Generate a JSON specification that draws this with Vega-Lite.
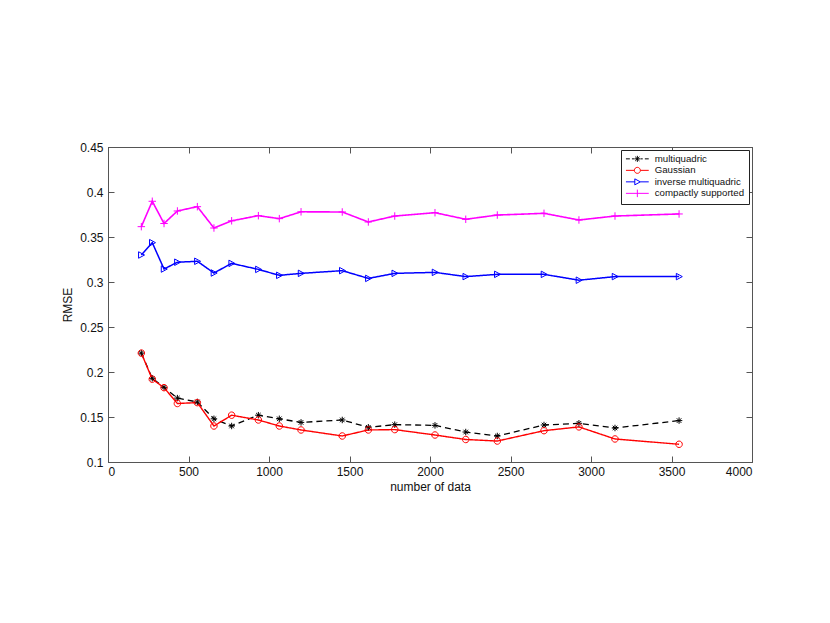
{
  "$schema": "https://vega.github.io/schema/vega-lite/v6.json",
  "width": 644,
  "height": 315,
  "autosize": {"type": "none"},
  "padding": {"left": 108, "top": 147, "right": 78, "bottom": 161},
  "background": "white",
  "config": {
    "font": "Liberation Sans",
    "view": {"stroke": "#555555", "strokeWidth": 1},
    "axis": {
      "grid": false,
      "domainColor": "#555555",
      "tickColor": "#555555",
      "labelColor": "#111111",
      "labelFont": "Liberation Sans",
      "labelFontSize": 12,
      "titleFont": "Liberation Sans",
      "titleFontSize": 12,
      "titleFontWeight": "normal",
      "titleColor": "#111111",
      "tickSize": -6
    },
    "legend": {
      "orient": "top-right", "offset": 3, "title": null, "padding": 4,
      "strokeColor": "#222222", "fillColor": "white",
      "symbolSize": 36, "symbolOffset": 7.5, "labelOffset": 12.5,
      "labelFont": "Liberation Sans", "labelFontSize": 9.7, "labelColor": "#111111",
      "rowPadding": 0.5, "symbolStrokeWidth": 1, "symbolFillColor": "transparent", "symbolOpacity": 1
    }
  },
  "data": {
    "values": [
      {"n": 207, "method": "multiquadric", "rmse": 0.221},
      {"n": 275, "method": "multiquadric", "rmse": 0.193},
      {"n": 348, "method": "multiquadric", "rmse": 0.183},
      {"n": 431, "method": "multiquadric", "rmse": 0.171},
      {"n": 555, "method": "multiquadric", "rmse": 0.1667},
      {"n": 658, "method": "multiquadric", "rmse": 0.148},
      {"n": 768, "method": "multiquadric", "rmse": 0.14},
      {"n": 934, "method": "multiquadric", "rmse": 0.152},
      {"n": 1064, "method": "multiquadric", "rmse": 0.148},
      {"n": 1199, "method": "multiquadric", "rmse": 0.144},
      {"n": 1455, "method": "multiquadric", "rmse": 0.1467},
      {"n": 1617, "method": "multiquadric", "rmse": 0.1386},
      {"n": 1781, "method": "multiquadric", "rmse": 0.1415},
      {"n": 2031, "method": "multiquadric", "rmse": 0.1407},
      {"n": 2222, "method": "multiquadric", "rmse": 0.1333},
      {"n": 2418, "method": "multiquadric", "rmse": 0.1289},
      {"n": 2708, "method": "multiquadric", "rmse": 0.1411},
      {"n": 2925, "method": "multiquadric", "rmse": 0.143},
      {"n": 3149, "method": "multiquadric", "rmse": 0.1378},
      {"n": 3547, "method": "multiquadric", "rmse": 0.146},
      {"n": 207, "method": "Gaussian", "rmse": 0.221},
      {"n": 275, "method": "Gaussian", "rmse": 0.192},
      {"n": 348, "method": "Gaussian", "rmse": 0.1826},
      {"n": 431, "method": "Gaussian", "rmse": 0.165},
      {"n": 555, "method": "Gaussian", "rmse": 0.166},
      {"n": 658, "method": "Gaussian", "rmse": 0.14},
      {"n": 768, "method": "Gaussian", "rmse": 0.152},
      {"n": 934, "method": "Gaussian", "rmse": 0.1467},
      {"n": 1064, "method": "Gaussian", "rmse": 0.14},
      {"n": 1199, "method": "Gaussian", "rmse": 0.1356},
      {"n": 1455, "method": "Gaussian", "rmse": 0.1289},
      {"n": 1617, "method": "Gaussian", "rmse": 0.1356},
      {"n": 1781, "method": "Gaussian", "rmse": 0.136},
      {"n": 2031, "method": "Gaussian", "rmse": 0.13},
      {"n": 2222, "method": "Gaussian", "rmse": 0.125},
      {"n": 2418, "method": "Gaussian", "rmse": 0.1233},
      {"n": 2708, "method": "Gaussian", "rmse": 0.1348},
      {"n": 2925, "method": "Gaussian", "rmse": 0.139},
      {"n": 3149, "method": "Gaussian", "rmse": 0.1256},
      {"n": 3547, "method": "Gaussian", "rmse": 0.1197},
      {"n": 207, "method": "inverse multiquadric", "rmse": 0.33},
      {"n": 275, "method": "inverse multiquadric", "rmse": 0.3437},
      {"n": 348, "method": "inverse multiquadric", "rmse": 0.3144},
      {"n": 431, "method": "inverse multiquadric", "rmse": 0.322},
      {"n": 555, "method": "inverse multiquadric", "rmse": 0.323},
      {"n": 658, "method": "inverse multiquadric", "rmse": 0.31},
      {"n": 768, "method": "inverse multiquadric", "rmse": 0.3207},
      {"n": 934, "method": "inverse multiquadric", "rmse": 0.314},
      {"n": 1064, "method": "inverse multiquadric", "rmse": 0.3074},
      {"n": 1199, "method": "inverse multiquadric", "rmse": 0.3096},
      {"n": 1455, "method": "inverse multiquadric", "rmse": 0.3126},
      {"n": 1617, "method": "inverse multiquadric", "rmse": 0.304},
      {"n": 1781, "method": "inverse multiquadric", "rmse": 0.3096},
      {"n": 2031, "method": "inverse multiquadric", "rmse": 0.3107},
      {"n": 2222, "method": "inverse multiquadric", "rmse": 0.306},
      {"n": 2418, "method": "inverse multiquadric", "rmse": 0.3085},
      {"n": 2708, "method": "inverse multiquadric", "rmse": 0.3085},
      {"n": 2925, "method": "inverse multiquadric", "rmse": 0.302},
      {"n": 3149, "method": "inverse multiquadric", "rmse": 0.306},
      {"n": 3547, "method": "inverse multiquadric", "rmse": 0.306},
      {"n": 207, "method": "compactly supported", "rmse": 0.3615},
      {"n": 275, "method": "compactly supported", "rmse": 0.3897},
      {"n": 348, "method": "compactly supported", "rmse": 0.365},
      {"n": 431, "method": "compactly supported", "rmse": 0.3789},
      {"n": 555, "method": "compactly supported", "rmse": 0.3837},
      {"n": 658, "method": "compactly supported", "rmse": 0.36},
      {"n": 768, "method": "compactly supported", "rmse": 0.368},
      {"n": 934, "method": "compactly supported", "rmse": 0.3737},
      {"n": 1064, "method": "compactly supported", "rmse": 0.3704},
      {"n": 1199, "method": "compactly supported", "rmse": 0.378},
      {"n": 1455, "method": "compactly supported", "rmse": 0.3778},
      {"n": 1617, "method": "compactly supported", "rmse": 0.3667},
      {"n": 1781, "method": "compactly supported", "rmse": 0.3733},
      {"n": 2031, "method": "compactly supported", "rmse": 0.377},
      {"n": 2222, "method": "compactly supported", "rmse": 0.3697},
      {"n": 2418, "method": "compactly supported", "rmse": 0.3744},
      {"n": 2708, "method": "compactly supported", "rmse": 0.3763},
      {"n": 2925, "method": "compactly supported", "rmse": 0.3689},
      {"n": 3149, "method": "compactly supported", "rmse": 0.3733},
      {"n": 3547, "method": "compactly supported", "rmse": 0.3756}
    ]
  },
  "layer": [
    {
      "mark": {"type": "line", "clip": false},
      "encoding": {
        "x": {
          "field": "n", "type": "quantitative",
          "scale": {"domain": [0, 4000], "nice": false, "zero": false},
          "axis": {"orient": "bottom", "values": [0, 500, 1000, 1500, 2000, 2500, 3000, 3500, 4000], "format": "d", "title": "number of data", "labelPadding": 10, "titlePadding": 4}
        },
        "y": {
          "field": "rmse", "type": "quantitative",
          "scale": {"domain": [0.1, 0.45], "nice": false, "zero": false},
          "axis": {"orient": "left", "values": [0.1, 0.15, 0.2, 0.25, 0.3, 0.35, 0.4, 0.45], "format": ".2~f", "title": "RMSE", "labelPadding": 11, "titlePadding": 5}
        },
        "color": {
          "field": "method", "type": "nominal",
          "scale": {"domain": ["multiquadric", "Gaussian", "inverse multiquadric", "compactly supported"], "range": ["#000000", "#ff0000", "#0000ff", "#ff00ff"]},
          "legend": null
        },
        "strokeDash": {
          "field": "method", "type": "nominal",
          "scale": {"domain": ["multiquadric", "Gaussian", "inverse multiquadric", "compactly supported"], "range": [[6, 4], [1, 0], [1, 0], [1, 0]]},
          "legend": null
        },
        "strokeWidth": {
          "field": "method", "type": "nominal",
          "scale": {"domain": ["multiquadric", "Gaussian", "inverse multiquadric", "compactly supported"], "range": [1.3, 1.6, 1, 0.9]},
          "legend": null
        }
      }
    },
    {
      "mark": {"type": "point", "filled": false, "opacity": 1, "size": 42, "strokeWidth": 1, "clip": false},
      "encoding": {
        "x": {
          "field": "n", "type": "quantitative",
          "axis": {"orient": "top", "values": [0, 500, 1000, 1500, 2000, 2500, 3000, 3500, 4000], "labels": false, "title": null}
        },
        "y": {
          "field": "rmse", "type": "quantitative",
          "axis": {"orient": "right", "values": [0.1, 0.15, 0.2, 0.25, 0.3, 0.35, 0.4, 0.45], "labels": false, "title": null}
        },
        "color": {
          "field": "method", "type": "nominal",
          "scale": {"domain": ["multiquadric", "Gaussian", "inverse multiquadric", "compactly supported"], "range": ["#000000", "#ff0000", "#0000ff", "#ff00ff"]},
          "legend": null
        },
        "shape": {
          "field": "method", "type": "nominal",
          "scale": {"domain": ["multiquadric", "Gaussian", "inverse multiquadric", "compactly supported"], "range": ["M-1,0L1,0M0,-1L0,1M-0.7,-0.7L0.7,0.7M-0.7,0.7L0.7,-0.7", "M1,0A1,1,0,1,1,-1,0A1,1,0,1,1,1,0", "M-0.85,-1L1,0L-0.85,1Z", "M-1.15,0L1.15,0M0,-1.15L0,1.15"]},
          "legend": null
        }
      }
    },
    {
      "mark": {"type": "point", "filled": false, "opacity": 0, "size": 36, "strokeWidth": 1, "clip": false},
      "encoding": {
        "x": {"field": "n", "type": "quantitative", "axis": null},
        "y": {"field": "rmse", "type": "quantitative", "axis": null},
        "color": {
          "field": "method", "type": "nominal",
          "scale": {"domain": ["multiquadric", "Gaussian", "inverse multiquadric", "compactly supported"], "range": ["#000000", "#ff0000", "#0000ff", "#ff00ff"]}
        },
        "shape": {
          "field": "method", "type": "nominal",
          "scale": {"domain": ["multiquadric", "Gaussian", "inverse multiquadric", "compactly supported"], "range": ["M-3.8,0L-2.5,0M-1.8,0L-1.1,0M1.1,0L1.8,0M2.5,0L3.8,0M-1,0L1,0M0,-1L0,1M-0.7,-0.7L0.7,0.7M-0.7,0.7L0.7,-0.7", "M-3.8,0L-1,0M1,0L3.8,0M1,0A1,1,0,1,1,-1,0A1,1,0,1,1,1,0", "M-3.8,0L-0.85,0M1,0L3.8,0M-0.85,-1L1,0L-0.85,1Z", "M-3.8,0L3.8,0M0,-1.25L0,1.25"]}
        }
      }
    }
  ],
  "resolve": {"axis": {"x": "independent", "y": "independent"}, "scale": {"shape": "independent", "color": "independent"}}
}
